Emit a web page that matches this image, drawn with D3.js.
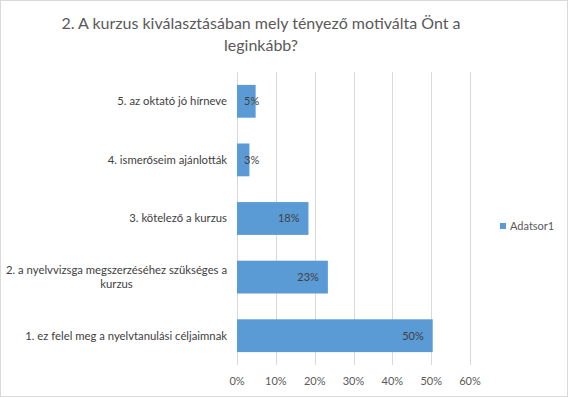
<!DOCTYPE html>
<html>
<head>
<meta charset="utf-8">
<script src="https://cdn.jsdelivr.net/npm/d3@7"></script>
<style>
	body { margin: 0; background: #fff; }
	text { font-family: Lato, "Open Sans", sans-serif; }
</style>
</head>
<body>
<div id="chart"></div>
<script>
'use strict'

// chart data, top row first
const titleText = "2. A kurzus kiválasztásában mely tényező motiválta Önt a leginkább?"
const categories = [
	"5. az oktató jó hírneve",
	"4. ismerőseim ajánlották",
	"3. kötelező a kurzus",
	"2. a nyelvvizsga megszerzéséhez szükséges a kurzus",
	"1. ez felel meg a nyelvtanulási céljaimnak"
]
const values = [0.048, 0.032, 0.184, 0.234, 0.504]
const xTicks = [0, 0.1, 0.2, 0.3, 0.4, 0.5, 0.6]
const seriesName = "Adatsor1"

function draw(){

	let width = 568
	let height = 397
	let margin = {left: 237, right: 99, top: 72, bottom: 32}
	let pct = d3.format(".0%")
	let barColor = "#5b9bd5"

	let svg = d3.select("#chart").append("svg")
		.attr("width", width)
		.attr("height", height)

	// outer border
	svg.append("rect")
		.attr("x", 0.5).attr("y", 0.5)
		.attr("width", width - 1).attr("height", height - 1)
		.attr("fill", "#fff")
		.attr("stroke", "#d9d9d9")

	let x = d3.scaleLinear().domain([0, 0.6]).range([margin.left, width - margin.right + 1])
	let y = d3.scaleBand().domain(categories).range([margin.top, height - margin.bottom]).paddingInner(0.44).paddingOuter(0.22)

	// wraps text into lines no wider than maxW
	function wrap(sel, str, maxW){
		let words = str.split(" ")
		let lines = []
		let cur = ""
		let probe = sel.append("tspan")
		words.forEach(function(w){
			let test = cur ? cur + " " + w : w
			probe.text(test)
			if (probe.node().getComputedTextLength() > maxW && cur){
				lines.push(cur)
				cur = w
			} else {
				cur = test
			}
		})
		lines.push(cur)
		probe.remove()
		return lines
	}

	// title
	let title = svg.append("text")
		.attr("fill", "#595959")
		.style("font-size", "16px")
		.attr("text-anchor", "middle")
	let tLines = wrap(title, titleText, 420)
	tLines.forEach(function(l, i){
		title.append("tspan").attr("x", 261).attr("y", 29 + i * 22).text(l)
	})

	// grid
	let grid = svg.append("g")
	grid.selectAll("line").data(xTicks).join("line")
		.attr("x1", d => Math.round(x(d)) + 0.5)
		.attr("x2", d => Math.round(x(d)) + 0.5)
		.attr("y1", margin.top)
		.attr("y2", height - margin.bottom)
		.attr("stroke", "#d9d9d9")

	// x axis labels
	svg.append("g").selectAll("text").data(xTicks).join("text")
		.attr("x", d => x(d))
		.attr("y", 385)
		.attr("text-anchor", "middle")
		.attr("fill", "#595959")
		.style("font-size", "11px")
		.text(d => pct(d))

	// bars
	svg.append("g").selectAll("rect").data(values).join("rect")
		.attr("x", x(0))
		.attr("y", (d, i) => y(categories[i]))
		.attr("width", d => x(d) - x(0))
		.attr("height", y.bandwidth())
		.attr("fill", barColor)

	// data labels (inside end)
	let labels = svg.append("g").selectAll("text").data(values).join("text")
		.attr("y", (d, i) => y(categories[i]) + y.bandwidth() / 2)
		.attr("dy", "0.35em")
		.attr("fill", "#404040")
		.style("font-size", "11px")
		.text(d => pct(d))
	labels.attr("x", function(d){
		let w = this.getComputedTextLength()
		return Math.max(x(0) + 7, x(d) - 9 - w)
	})

	// category labels
	categories.forEach(function(c, i){
		let t = svg.append("text")
			.attr("fill", "#404040")
			.style("font-size", "11.3px")
		let lines = wrap(t, c, 222)
		let cy = y(c) + y.bandwidth() / 2
		let lh = 14
		if (lines.length == 1){
			t.attr("text-anchor", "end")
			t.append("tspan").attr("x", 227).attr("y", cy).attr("dy", "0.35em").text(lines[0])
		} else {
			// excel centers wrapped lines on the widest one
			let probe = t.append("tspan").text(lines[0])
			let w0 = probe.node().getComputedTextLength()
			probe.remove()
			let center = 227 - w0 / 2
			t.attr("text-anchor", "middle")
			lines.forEach(function(l, k){
				t.append("tspan")
					.attr("x", center)
					.attr("y", cy + (k - (lines.length - 1) / 2) * lh)
					.attr("dy", "0.35em")
					.text(l)
			})
		}
	})

	// legend
	let leg = svg.append("g")
	leg.append("rect")
		.attr("x", 500).attr("y", 223)
		.attr("width", 6).attr("height", 6)
		.attr("fill", barColor)
	leg.append("text")
		.attr("x", 510).attr("y", 226)
		.attr("dy", "0.35em")
		.attr("fill", "#595959")
		.style("font-size", "11px")
		.text(seriesName)
}

draw()
</script>
</body>
</html>
